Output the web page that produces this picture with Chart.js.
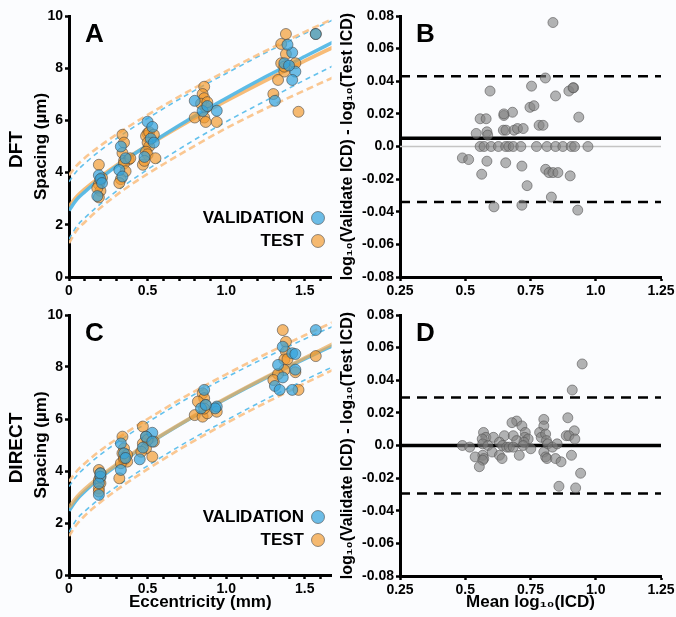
<!DOCTYPE html>
<html>
<head>
<meta charset="utf-8">
<script src="https://cdn.jsdelivr.net/npm/chart.js@4"></script>
<style>
  body { margin: 0; background: #fbfcfe; }
  #fig { position: relative; width: 676px; height: 617px; }
  .panel { position: absolute; }
</style>
</head>
<body>
<div id="fig">
  <div class="panel" style="left:0;top:0"><canvas id="chartA" width="338" height="300"></canvas></div>
  <div class="panel" style="left:338px;top:0"><canvas id="chartB" width="338" height="300"></canvas></div>
  <div class="panel" style="left:0;top:300px"><canvas id="chartC" width="338" height="317"></canvas></div>
  <div class="panel" style="left:338px;top:300px"><canvas id="chartD" width="338" height="317"></canvas></div>
</div>
<script>
// Eccentricity ticks (panels A, C)
const ECC_TICKS = [0, 0.1, 0.2, 0.3, 0.4, 0.5, 0.6, 0.7, 0.8, 0.9, 1.0, 1.1, 1.2, 1.3, 1.4, 1.5, 1.6];
const ECC_LABELS = ['0', '', '', '', '', '0.5', '', '', '', '', '1.0', '', '', '', '', '1.5', ''];
const SPACING_TICKS = [0, 2, 4, 6, 8, 10];

// Bland-Altman ticks (panels B, D)
const MEAN_TICKS = [0.25, 0.5, 0.75, 1.0, 1.25];
const MEAN_LABELS = ['0.25', '0.5', '0.75', '1.0', '1.25'];
const DIFF_TICKS = [-0.08, -0.06, -0.04, -0.02, 0, 0.02, 0.04, 0.06, 0.08];
const DIFF_LABELS = ['-0.08', '-0.06', '-0.04', '-0.02', '0.0', '0.02', '0.04', '0.06', '0.08'];

// Fit curves at these eccentricities
const FIT_X = [0, 0.05, 0.1, 0.2, 0.35, 0.5, 0.75, 1.0, 1.25, 1.5, 1.7];
const A_VAL_FIT = [2.55, 2.97, 3.26, 3.78, 4.45, 5.05, 5.99, 6.85, 7.67, 8.45, 9.06];
const A_VAL_UPPER = [3.65, 4.06, 4.35, 4.85, 5.50, 6.08, 6.98, 7.80, 8.59, 9.33, 9.91];
const A_VAL_LOWER = [1.45, 1.95, 2.26, 2.80, 3.50, 4.12, 5.08, 5.95, 6.75, 7.55, 8.15];
const A_TEST_FIT = [2.70, 3.08, 3.36, 3.84, 4.47, 5.04, 5.93, 6.75, 7.53, 8.28, 8.86];
const A_TEST_UPPER = [3.90, 4.28, 4.56, 5.03, 5.65, 6.21, 7.08, 7.89, 8.66, 9.39, 9.95];
const A_TEST_LOWER = [1.30, 1.80, 2.10, 2.65, 3.35, 3.95, 4.85, 5.70, 6.45, 7.15, 7.70];

const C_VAL_FIT = [2.47, 2.90, 3.21, 3.74, 4.41, 5.02, 5.94, 6.78, 7.57, 8.31, 8.88];
const C_VAL_UPPER = [3.40, 3.82, 4.12, 4.63, 5.28, 5.87, 6.78, 7.60, 8.36, 9.08, 9.62];
const C_VAL_LOWER = [1.65, 2.15, 2.45, 2.95, 3.60, 4.20, 5.12, 5.95, 6.75, 7.50, 8.07];
const C_TEST_FIT = [2.60, 3.00, 3.30, 3.80, 4.45, 5.05, 5.96, 6.80, 7.60, 8.35, 8.95];
const C_TEST_UPPER = [3.60, 4.00, 4.29, 4.79, 5.42, 6.00, 6.90, 7.72, 8.49, 9.22, 9.78];
const C_TEST_LOWER = [1.50, 1.95, 2.28, 2.80, 3.47, 4.07, 5.00, 5.84, 6.62, 7.37, 7.95];

// Panel A (DFT) points
const A_VAL_X = [0.19, 0.2, 0.18, 0.21, 0.33, 0.32, 0.36, 0.34, 0.5, 0.53, 0.48, 0.52, 0.54,
  0.8, 0.94, 0.85, 0.88, 1.42, 1.44, 1.42, 1.31, 1.37, 1.39, 1.4, 1.57];
const A_VAL_Y = [3.9, 3.75, 3.1, 3.6, 5.0, 4.1, 4.55, 3.85, 5.95, 5.75, 4.6, 5.3, 5.15,
  6.75, 6.37, 6.36, 6.55, 8.6, 7.87, 7.55, 6.75, 8.19, 8.9, 8.1, 9.31];
const A_TEST_X = [0.19, 0.2, 0.19, 0.2, 0.18, 0.19, 0.21,
  0.34, 0.35, 0.34, 0.35, 0.38, 0.35, 0.36, 0.33, 0.32, 0.39,
  0.5, 0.49, 0.51, 0.54, 0.5, 0.51, 0.49, 0.5, 0.55, 0.47, 0.48,
  0.86, 0.85, 0.86, 0.87, 0.84, 0.8, 0.86, 0.87, 0.94, 0.88,
  1.38, 1.35, 1.38, 1.35, 1.44, 1.37, 1.33, 1.3, 1.46, 1.37, 1.57];
const A_TEST_Y = [4.3, 3.7, 3.55, 3.3, 3.4, 3.05, 3.8,
  5.45, 5.15, 4.75, 4.45, 4.5, 4.35, 4.05, 3.75, 3.6, 4.55,
  5.5, 5.4, 5.55, 5.45, 5.15, 5.0, 4.8, 4.7, 4.55, 4.3, 4.45,
  7.29, 7.01, 6.85, 6.49, 6.64, 6.11, 6.11, 5.94, 5.94, 6.7,
  9.31, 8.93, 8.54, 8.19, 8.19, 7.87, 7.55, 7.01, 6.33, 8.06, 9.31];

// Panel C (DIRECT) points
const C_VAL_X = [0.2, 0.19, 0.2, 0.19, 0.33, 0.33, 0.35, 0.36, 0.53, 0.49, 0.47, 0.45, 0.53,
  0.86, 0.94, 0.93, 0.84, 0.87, 1.57, 1.36, 1.42, 1.33, 1.44, 1.31, 1.34, 1.42, 1.36, 1.44];
const C_VAL_Y = [3.78, 3.53, 3.91, 3.08, 5.06, 4.04, 4.68, 4.5, 5.47, 5.32, 4.9, 4.45, 5.13,
  7.12, 6.48, 6.41, 6.41, 6.54, 9.42, 8.78, 8.53, 8.08, 7.9, 7.27, 7.12, 7.12, 7.6, 8.5];
const C_TEST_X = [0.19, 0.2, 0.19, 0.2, 0.19, 0.19, 0.2,
  0.34, 0.35, 0.34, 0.37, 0.35, 0.37, 0.33, 0.32, 0.35,
  0.47, 0.5, 0.49, 0.54, 0.47, 0.49, 0.46, 0.53, 0.5,
  0.85, 0.86, 0.82, 0.87, 0.8, 0.85, 0.88, 0.94, 0.86,
  1.36, 1.38, 1.38, 1.37, 1.57, 1.37, 1.33, 1.3, 1.46, 1.44, 1.39];
const C_TEST_Y = [4.04, 3.91, 3.65, 3.53, 3.33, 3.21, 3.78,
  5.32, 4.87, 4.68, 4.62, 4.42, 4.36, 4.3, 3.72, 4.5,
  5.71, 5.26, 5.32, 5.13, 5.06, 4.87, 4.74, 4.55, 5.2,
  6.99, 6.8, 6.67, 6.54, 6.15, 6.09, 6.22, 6.28, 6.4,
  9.42, 8.97, 8.59, 8.29, 8.42, 7.88, 7.73, 7.5, 7.12, 7.8, 8.3];

// Panel B (DFT Bland-Altman)
const B_MEAN = [0.836, 0.807, 0.754, 0.595, 0.681, 0.648, 0.648, 0.748, 0.763, 0.846, 0.897, 0.915, 0.913, 0.935,
  0.557, 0.580, 0.542, 0.583, 0.586, 0.646, 0.656, 0.687, 0.700, 0.722, 0.783, 0.798,
  0.557, 0.572, 0.599, 0.627, 0.655, 0.667, 0.684, 0.713, 0.773, 0.813, 0.846, 0.874, 0.906, 0.919, 0.970,
  0.489, 0.513, 0.583, 0.655, 0.717, 0.563, 0.808, 0.821, 0.836, 0.855, 0.902, 0.737, 0.830, 0.717, 0.610, 0.931];
const B_DIFF = [0.076, 0.042, 0.037, 0.034, 0.021, 0.019, 0.020, 0.024, 0.025, 0.031, 0.034, 0.036, 0.036, 0.018,
  0.017, 0.017, 0.008, 0.009, 0.007, 0.010, 0.010, 0.010, 0.011, 0.011, 0.013, 0.013,
  0, 0, 0, 0, 0, 0, 0, 0, 0, 0, 0, 0, 0, 0, 0,
  -0.007, -0.008, -0.009, -0.010, -0.012, -0.017, -0.014, -0.016, -0.016, -0.016, -0.018, -0.024, -0.031, -0.036, -0.037, -0.039];
const B_BIAS = 0.005, B_UPPER = 0.043, B_LOWER = -0.034;

// Panel D (DIRECT Bland-Altman)
const D_MEAN = [0.948, 0.910, 0.893, 0.801, 0.697, 0.679, 0.717, 0.801, 0.918, 0.570, 0.730, 0.785,
  0.650, 0.684, 0.579, 0.608, 0.791, 0.808, 0.887, 0.897, 0.728, 0.741, 0.565, 0.920, 0.811, 0.697, 0.725,
  0.489, 0.517, 0.567, 0.587, 0.631, 0.643, 0.659, 0.669, 0.684, 0.722, 0.751, 0.816, 0.834, 0.852,
  0.603, 0.801, 0.567, 0.631, 0.707, 0.907, 0.538, 0.571, 0.641, 0.808, 0.813, 0.846, 0.867, 0.567,
  0.554, 0.942, 0.859, 0.923];
const D_DIFF = [0.050, 0.034, 0.017, 0.016, 0.015, 0.014, 0.012, 0.012, 0.009, 0.008, 0.008, 0.008,
  0.006, 0.006, 0.005, 0.005, 0.005, 0.007, 0.006, 0.006, 0.005, 0.004, 0.004, 0.004, 0.003, 0.003, 0.002,
  0.000, -0.001, 0.001, 0.000, 0.002, 0.000, -0.001, -0.001, -0.001, 0.000, -0.002, 0.001, -0.001, 0.001,
  -0.004, -0.004, -0.006, -0.006, -0.006, -0.006, -0.007, -0.008, -0.008, -0.007, -0.008, -0.008, -0.010, -0.009,
  -0.013, -0.017, -0.025, -0.026];
const D_BIAS = 0.0, D_UPPER = 0.0295, D_LOWER = -0.0295;

const FONT = '"Liberation Sans", Arial, sans-serif';
const BLUE_PT = 'rgba(52, 163, 220, 0.72)';
const ORANGE_PT = 'rgba(242, 154, 44, 0.68)';
const PT_EDGE = 'rgba(60, 60, 60, 0.55)';

Chart.defaults.font.family = FONT;
Chart.defaults.font.weight = 'bold';
Chart.defaults.color = '#000';
Chart.defaults.animation = false;

const pairs = (xs, ys) => xs.map((x, i) => ({ x: x, y: ys[i] }));

const scatterSet = (xs, ys, fill, edge, r) => ({
  data: pairs(xs, ys),
  backgroundColor: fill,
  borderColor: edge,
  borderWidth: 1,
  pointRadius: r,
  order: 0
});

const curveSet = (ys, color, width, dash) => ({
  data: pairs(FIT_X, ys),
  showLine: true,
  borderColor: color,
  borderWidth: width,
  borderDash: dash || [],
  pointRadius: 0,
  cubicInterpolationMode: 'monotone',
  order: 1
});

const hline = (y, color, width, dash) => ({
  data: [{ x: MEAN_TICKS[0], y: y }, { x: MEAN_TICKS[MEAN_TICKS.length - 1], y: y }],
  showLine: true,
  borderColor: color,
  borderWidth: width,
  borderDash: dash || [],
  pointRadius: 0,
  order: 1
});

// letter, row label and legend drawn on top of each panel
const panelDecor = {
  id: 'panelDecor',
  afterDraw(chart, args, opts) {
    const { ctx, chartArea } = chart;
    ctx.save();
    ctx.fillStyle = '#000';
    ctx.font = 'bold 26px ' + FONT;
    ctx.textAlign = 'left';
    ctx.textBaseline = 'alphabetic';
    ctx.fillText(opts.letter, chartArea.left + 16, chartArea.top + 26);

    if (opts.legend) {
      ctx.font = 'bold 17px ' + FONT;
      ctx.textAlign = 'right';
      ctx.textBaseline = 'middle';
      const rows = [['VALIDATION', BLUE_PT, 202], ['TEST', ORANGE_PT, 225]];
      rows.forEach(([label, fill, dy]) => {
        ctx.fillStyle = '#000';
        ctx.fillText(label, chartArea.left + 235, chartArea.top + dy);
        ctx.beginPath();
        ctx.arc(chartArea.left + 249, chartArea.top + dy, 6.5, 0, Math.PI * 2);
        ctx.fillStyle = fill;
        ctx.fill();
        ctx.strokeStyle = PT_EDGE;
        ctx.lineWidth = 1;
        ctx.stroke();
      });
    }

    if (opts.side) {
      ctx.translate(17, (chartArea.top + chartArea.bottom) / 2 + 3);
      ctx.rotate(-Math.PI / 2);
      ctx.fillStyle = '#000';
      ctx.font = 'bold 19px ' + FONT;
      ctx.textAlign = 'center';
      ctx.textBaseline = 'middle';
      ctx.fillText(opts.side, 0, 0);
    }
    ctx.restore();
  }
};

const axisBase = (ticks, labels, fontSize) => ({
  type: 'linear',
  border: { display: true, color: '#000', width: 3 },
  grid: { drawOnChartArea: false, drawTicks: true, tickLength: 4, tickWidth: 2.5, tickColor: '#000' },
  ticks: {
    autoSkip: false,
    maxRotation: 0,
    padding: 2,
    color: '#000',
    font: { size: fontSize, weight: 'bold' },
    callback: (v) => {
      const i = ticks.findIndex(t => Math.abs(t - v) < 1e-9);
      return i < 0 ? '' : labels[i];
    }
  },
  afterBuildTicks: (s) => { s.ticks = ticks.map(v => ({ value: v })); }
});

function makePanel(id, cfg) {
  const xAxis = Object.assign(axisBase(cfg.xTicks, cfg.xLabels, 14), {
    min: cfg.xMin, max: cfg.xMax,
    title: cfg.xTitle ? { display: true, text: cfg.xTitle, font: { size: 17, weight: 'bold' }, padding: { top: 0, bottom: 4 } } : { display: false },
    afterFit: (s) => { s.height = cfg.xHeight; s.paddingLeft = 0; s.paddingRight = 0; }
  });
  const yAxis = Object.assign(axisBase(cfg.yTicks, cfg.yLabels, 14), {
    min: cfg.yMin, max: cfg.yMax,
    title: { display: true, text: cfg.yTitle, font: { size: cfg.yTitleSize, weight: 'bold' }, padding: { top: cfg.yTitlePad, bottom: 0 } },
    afterFit: (s) => { s.width = cfg.yWidth; s.paddingTop = 0; s.paddingBottom = 0; }
  });
  return new Chart(document.getElementById(id), {
    type: 'scatter',
    data: { datasets: cfg.datasets },
    options: {
      responsive: false,
      devicePixelRatio: 1,
      events: [],
      layout: { padding: cfg.padding },
      scales: { x: xAxis, y: yAxis },
      plugins: {
        legend: { display: false },
        tooltip: { enabled: false },
        panelDecor: cfg.decor
      }
    },
    plugins: [panelDecor]
  });
}

const BLUE_LINE = 'rgba(84, 184, 230, 0.95)';
const ORANGE_LINE = 'rgba(246, 176, 96, 0.85)';
const OLIVE_LINE = 'rgba(236, 172, 90, 0.72)';
const BLUE_DASH = 'rgba(92, 190, 235, 0.95)';
const ORANGE_DASH = 'rgba(250, 196, 140, 0.95)';

// earlier datasets are painted on top of later ones with the same order
function spacingSets(vx, vy, tx, ty, vFit, vUp, vLo, tFit, tUp, tLo, testOnTop) {
  const vLine = curveSet(vFit, BLUE_LINE, 3.5);
  const tLine = curveSet(tFit, testOnTop ? OLIVE_LINE : ORANGE_LINE, 3.8);
  return [
    scatterSet(vx, vy, BLUE_PT, PT_EDGE, 5.5),
    scatterSet(tx, ty, ORANGE_PT, PT_EDGE, 5.5),
    curveSet(tUp, ORANGE_DASH, 2.6, [7, 4]),
    curveSet(tLo, ORANGE_DASH, 2.6, [7, 4]),
    curveSet(vUp, BLUE_DASH, 1.6, [5, 4]),
    curveSet(vLo, BLUE_DASH, 1.6, [5, 4])
  ].concat(testOnTop ? [tLine, vLine] : [vLine, tLine]);
}

function diffSets(mean, diff, bias, upper, lower, zeroLine) {
  const sets = [
    scatterSet(mean, diff, 'rgba(128, 128, 128, 0.6)', 'rgba(85, 85, 85, 0.6)', 5),
    hline(bias, '#000', 3.5),
    hline(upper, '#000', 2.5, [10, 7]),
    hline(lower, '#000', 2.5, [10, 7])
  ];
  if (zeroLine) sets.push(hline(0, '#c4c4c4', 1.5));
  return sets;
}

const ECC_AXIS = { xTicks: ECC_TICKS, xLabels: ECC_LABELS, xMin: 0, xMax: 1.67,
  yTicks: SPACING_TICKS, yLabels: SPACING_TICKS.map(String), yMin: 0, yMax: 10,
  yTitle: 'Spacing (\u00b5m)', yTitleSize: 17, yTitlePad: 31, yWidth: 69 };
const BA_AXIS = { xTicks: MEAN_TICKS, xLabels: MEAN_LABELS, xMin: 0.25, xMax: 1.25,
  yTicks: DIFF_TICKS, yLabels: DIFF_LABELS, yMin: -0.08, yMax: 0.08,
  yTitle: 'log\u2081\u2080(Validate ICD) - log\u2081\u2080(Test ICD)', yTitleSize: 16, yTitlePad: 0, yWidth: 62 };

makePanel('chartA', Object.assign({}, ECC_AXIS, {
  xHeight: 23, padding: { top: 16, right: 5, left: 0, bottom: 0 },
  decor: { letter: 'A', side: 'DFT', legend: true },
  datasets: spacingSets(A_VAL_X, A_VAL_Y, A_TEST_X, A_TEST_Y,
    A_VAL_FIT, A_VAL_UPPER, A_VAL_LOWER, A_TEST_FIT, A_TEST_UPPER, A_TEST_LOWER, false)
}));

makePanel('chartB', Object.assign({}, BA_AXIS, {
  xHeight: 23, padding: { top: 16, right: 15, left: 0, bottom: 0 },
  decor: { letter: 'B' },
  datasets: diffSets(B_MEAN, B_DIFF, B_BIAS, B_UPPER, B_LOWER, true)
}));

makePanel('chartC', Object.assign({}, ECC_AXIS, {
  xHeight: 42, xTitle: 'Eccentricity (mm)', padding: { top: 15, right: 5, left: 0, bottom: 0 },
  decor: { letter: 'C', side: 'DIRECT', legend: true },
  datasets: spacingSets(C_VAL_X, C_VAL_Y, C_TEST_X, C_TEST_Y,
    C_VAL_FIT, C_VAL_UPPER, C_VAL_LOWER, C_TEST_FIT, C_TEST_UPPER, C_TEST_LOWER, true)
}));

makePanel('chartD', Object.assign({}, BA_AXIS, {
  xHeight: 41, xTitle: 'Mean log\u2081\u2080(ICD)', padding: { top: 15, right: 15, left: 0, bottom: 0 },
  decor: { letter: 'D' },
  datasets: diffSets(D_MEAN, D_DIFF, D_BIAS, D_UPPER, D_LOWER, false)
}));
</script>
</body>
</html>
